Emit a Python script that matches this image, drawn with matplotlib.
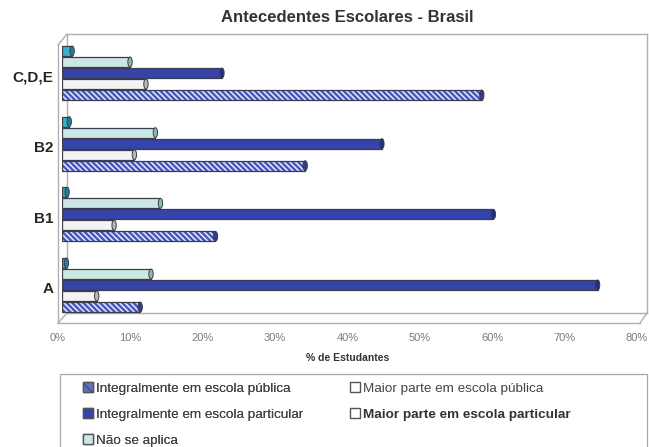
import numpy as np
import matplotlib.pyplot as plt
import matplotlib.transforms as mtransforms
from matplotlib.patches import Patch, Ellipse, Rectangle
from matplotlib.lines import Line2D

plt.rcParams['font.family'] = ['Liberation Sans', 'DejaVu Sans']
plt.rcParams['hatch.linewidth'] = 1.1

categorias = ['A', 'B1', 'B2', 'C,D,E']
series = ['Integralmente em escola pública', 'Maior parte em escola pública',
          'Integralmente em escola particular', 'Maior parte em escola particular',
          'Não se aplica']
int_publica = [10.8, 21.2, 33.6, 58.0]
maior_publica = [4.8, 7.2, 10.0, 11.6]
int_particular = [74.0, 59.6, 44.2, 22.1]
maior_particular = [12.3, 13.6, 12.9, 9.4]
nao_aplica = [0.6, 0.7, 1.0, 1.4]
valores = [int_publica, maior_publica, int_particular, maior_particular, nao_aplica]

cores = ['#4656be', '#f3f3f3', '#3643ab', '#cbe8e7', '#3fb0c9']
cores_tampa = ['#2f3c88', '#b8b8b8', '#232e80', '#8fb5b4', '#1f7f96']
xticks = np.arange(0, 81, 10)

W, H = 649, 447
fig = plt.figure(figsize=(W / 100, H / 100), dpi=100)


def fx(px):
    return px / W


def fy(py):
    return 1 - py / H


# axes at mid depth of the 3D box
ax = fig.add_axes([fx(62), fy(318), fx(641) - fx(62), fy(40) - fy(318)])
ax.set_facecolor('none')

# 3D box outline (decoration)
cor_caixa = '#b5adad'
segs = [((67, 34), (647, 34)), ((647, 34), (647, 313)), ((67, 34), (67, 313)),
        ((67, 313), (647, 313)), ((58, 45), (58, 323)), ((58, 45), (67, 34)),
        ((58, 323), (640, 323)), ((58, 323), (67, 313)), ((640, 323), (647, 313))]
for (x0, y0), (x1, y1) in segs:
    fig.add_artist(Line2D([fx(x0), fx(x1)], [fy(y0), fy(y1)], color=cor_caixa,
                          lw=1.0, transform=fig.transFigure, zorder=0))

y = np.arange(len(categorias))
passo = 0.156
altura = 0.14
tampa_w = 0.6
for i, vals in enumerate(valores):
    pos = y + (i - 2) * passo
    if i == 0:
        ax.barh(pos, vals, height=altura, color=cores[i], edgecolor='#e8ecff',
                hatch='\\' * 6, linewidth=0, zorder=3)
        ax.barh(pos, vals, height=altura, fill=False, edgecolor='#3a3e4c',
                linewidth=0.9, zorder=4)
    else:
        ax.barh(pos, vals, height=altura, color=cores[i], edgecolor='#3a3e4c',
                linewidth=0.9, zorder=3)
    for v, p in zip(vals, pos):
        ax.add_patch(Ellipse((v, p), tampa_w, altura, facecolor=cores_tampa[i],
                             edgecolor='#3a3e4c', linewidth=0.7, zorder=5))

ax.set_xlim(0, 80)
ax.set_ylim(-0.467, 3.467)
ax.set_yticks(y)
ax.set_yticklabels(categorias, fontsize=11, fontweight='bold', color='#262626')
ax.set_xticks(xticks)
ax.set_xticklabels([f'{v}%' for v in xticks], fontsize=8, color='#7a7a7a')
ax.tick_params(axis='x', length=0, pad=11)
ax.tick_params(axis='y', length=0, pad=6)
desl_x = mtransforms.ScaledTranslation(-4 / 100, 0, fig.dpi_scale_trans)
for lab in ax.get_xticklabels():
    lab.set_transform(lab.get_transform() + desl_x)
desl_y = mtransforms.ScaledTranslation(0, -3 / 100, fig.dpi_scale_trans)
for lab in ax.get_yticklabels():
    lab.set_transform(lab.get_transform() + desl_y)
for s in ax.spines.values():
    s.set_visible(False)

fig.text(fx(347), fy(17), 'Antecedentes Escolares - Brasil', fontsize=12,
         fontweight='bold', color='#333333', ha='center', va='center')
fig.text(fx(348), fy(358), '% de Estudantes', fontsize=7.5, fontweight='bold',
         color='#333333', ha='center', va='center')

# legend frame
fig.add_artist(Rectangle((fx(60), fy(470)), fx(647) - fx(60), fy(374) - fy(470),
                         transform=fig.transFigure, facecolor='none',
                         edgecolor='#aaaaaa', lw=0.9))

h_pub = Patch(facecolor='#6070c8', edgecolor='#555555', hatch='\\\\\\')
h_part = Patch(facecolor=cores[2], edgecolor='#555555')
h_nao = Patch(facecolor=cores[3], edgecolor='#555555')
h_branco = Patch(facecolor='white', edgecolor='#555555')

estilo = dict(loc='upper left', fontsize=9.7, frameon=False, handlelength=0.75,
              handleheight=0.75, handletextpad=0.2, labelspacing=1.0,
              borderpad=0, borderaxespad=0, labelcolor='#444444')
leg1 = fig.legend([h_pub, h_part, h_nao], [series[0], series[2], series[4]],
                  bbox_to_anchor=(fx(83), fy(382)), **estilo)
fig.add_artist(leg1)
leg2 = fig.legend([h_branco, h_branco], [series[1], series[3]],
                  bbox_to_anchor=(fx(350), fy(382)), **estilo)
leg2.get_texts()[1].set_fontweight('bold')
leg2.get_texts()[1].set_color('#333333')

fig.savefig('out.png', dpi=100)
